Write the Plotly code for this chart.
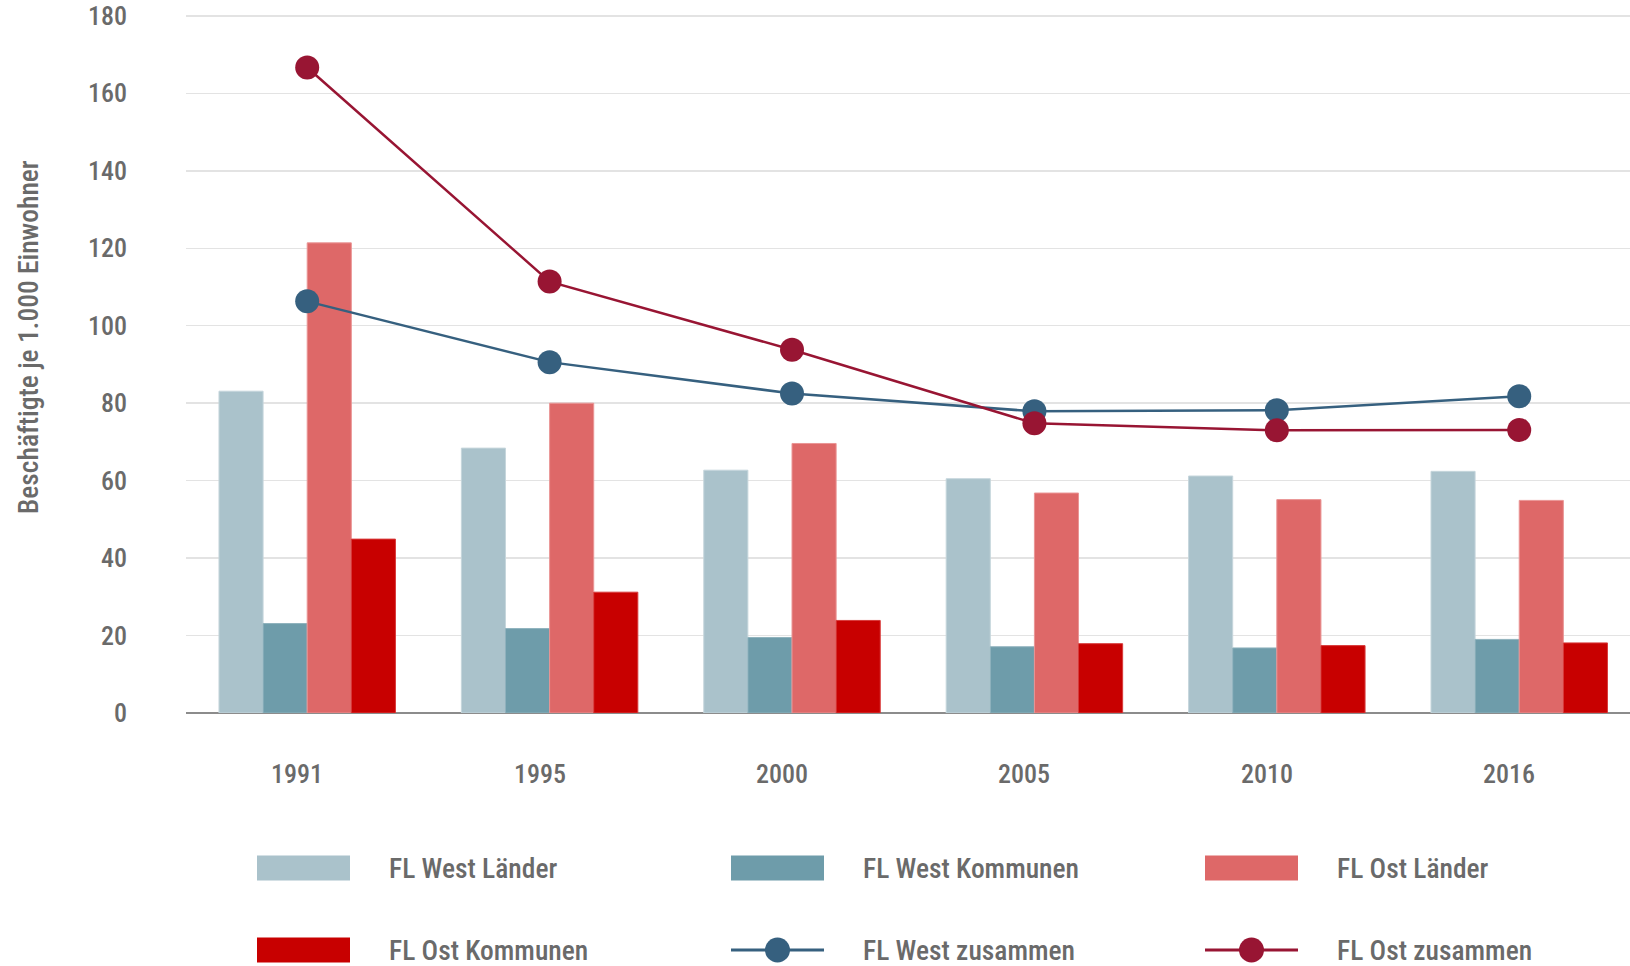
import plotly.graph_objects as go

years = ["1991", "1995", "2000", "2005", "2010", "2016"]
west_laender = [83.1, 68.4, 62.7, 60.5, 61.2, 62.4]
west_kommunen = [23.1, 21.8, 19.5, 17.1, 16.8, 19.0]
ost_laender = [121.4, 80.0, 69.6, 56.8, 55.1, 54.9]
ost_kommunen = [44.9, 31.2, 23.9, 17.9, 17.4, 18.1]
west_zusammen = [106.3, 90.6, 82.5, 77.9, 78.2, 81.8]
ost_zusammen = [166.7, 111.4, 93.8, 74.8, 73.0, 73.1]
y_ticks = [0, 20, 40, 60, 80, 100, 120, 140, 160, 180]

bar_series = [
    ("FL West Länder", west_laender, "#aac2cb", "#c6d6dc"),
    ("FL West Kommunen", west_kommunen, "#6e9caa", "#8fb2bd"),
    ("FL Ost Länder", ost_laender, "#de6868", "#ea9595"),
    ("FL Ost Kommunen", ost_kommunen, "#c80000", "#d83a3a"),
]
line_series = [
    ("FL West zusammen", west_zusammen, "#36607f"),
    ("FL Ost zusammen", ost_zusammen, "#981533"),
]

FONT = "Liberation Sans Narrow, Arial Narrow, Roboto Condensed, DejaVu Sans Condensed, sans-serif"
TXT = "#6a6a6a"
WEIGHT = 500
W, H = 1630, 966
L, R, T, B = 186, 0, 14, 253
PW, PH = W - L - R, H - T - B

fig = go.Figure()
for name, vals, col, edge in bar_series:
    fig.add_trace(go.Bar(x=years, y=vals, name=name, marker=dict(color=col, line=dict(color=edge, width=1)),
                         showlegend=False, hoverinfo="skip"))
for name, vals, col in line_series:
    fig.add_trace(go.Scatter(x=years, y=vals, name=name, mode="lines+markers",
                             line=dict(color=col, width=2.5),
                             marker=dict(color=col, size=24), showlegend=False, hoverinfo="skip"))

def px2x(px):
    return (px - L) / PW

def py2y(py):
    return (H - B - py) / PH

shapes = []
annotations = []
# x tick labels (category index positions on the x axis)
for i, yr in enumerate(years):
    annotations.append(dict(x=i, y=py2y(774), xref="x", yref="paper", text=yr, showarrow=False,
                            xshift=-10, yanchor="middle", xanchor="center",
                            font=dict(family=FONT, size=26, color=TXT, weight=WEIGHT)))
# y axis title
annotations.append(dict(x=px2x(28), y=py2y(337), xref="paper", yref="paper",
                        text="Beschäftigte je 1.000 Einwohner", textangle=-90, showarrow=False,
                        xanchor="center", yanchor="middle",
                        font=dict(family=FONT, size=27.5, color=TXT, weight=WEIGHT)))

# manual legend
legend_items = [(n, c, "bar") for n, _, c, _ in bar_series] + [(n, c, "line") for n, _, c in line_series]
col_sw = [257, 731, 1205]
col_tx = [387, 861, 1335]
rows = [868, 950]
sw_w, sw_h = 93, 25
for i, (name, col, kind) in enumerate(legend_items):
    r, c = divmod(i, 3)
    cy = rows[r]
    x0, x1 = col_sw[c], col_sw[c] + sw_w
    if kind == "bar":
        shapes.append(dict(type="rect", xref="paper", yref="paper", x0=px2x(x0), x1=px2x(x1),
                           y0=py2y(cy - sw_h / 2), y1=py2y(cy + sw_h / 2), fillcolor=col, line=dict(width=0)))
    else:
        shapes.append(dict(type="line", xref="paper", yref="paper", x0=px2x(x0), x1=px2x(x1),
                           y0=py2y(cy), y1=py2y(cy), line=dict(color=col, width=3)))
        shapes.append(dict(type="circle", xref="paper", yref="paper", xsizemode="pixel", ysizemode="pixel",
                           xanchor=px2x((x0 + x1) / 2), yanchor=py2y(cy), x0=-12.5, x1=12.5, y0=-12.5, y1=12.5,
                           fillcolor=col, line=dict(width=0)))
    annotations.append(dict(x=px2x(col_tx[c]), y=py2y(cy), xref="paper", yref="paper", text=name,
                            showarrow=False, xanchor="left", yanchor="middle",
                            font=dict(family=FONT, size=27.5, color=TXT, weight=WEIGHT)))

fig.update_layout(
    width=W, height=H,
    margin=dict(l=L, r=R, t=T, b=B, pad=0),
    plot_bgcolor="white", paper_bgcolor="white",
    barmode="group", bargap=0.272, bargroupgap=0,
    shapes=shapes, annotations=annotations,
    font=dict(family=FONT, color=TXT, size=26, weight=WEIGHT),
    hovermode=False,
)
fig.update_xaxes(type="category", range=[-0.5, 5.457], showticklabels=False, showgrid=False,
                 zeroline=False, showline=False, ticks="")
fig.update_yaxes(range=[0, 180.5], tickvals=y_ticks, showgrid=True, gridcolor="#e3e3e3", gridwidth=1.5,
                 zeroline=True, zerolinecolor="#8c8c8c", zerolinewidth=2, showline=False, ticks="",
                 ticklabelstandoff=58, tickfont=dict(family=FONT, size=26, color=TXT, weight=WEIGHT))

fig.write_html("out.html", config={"displayModeBar": False, "staticPlot": True},
               post_script="document.body.style.margin='0';document.body.style.padding='0';document.documentElement.style.overflow='hidden';")
